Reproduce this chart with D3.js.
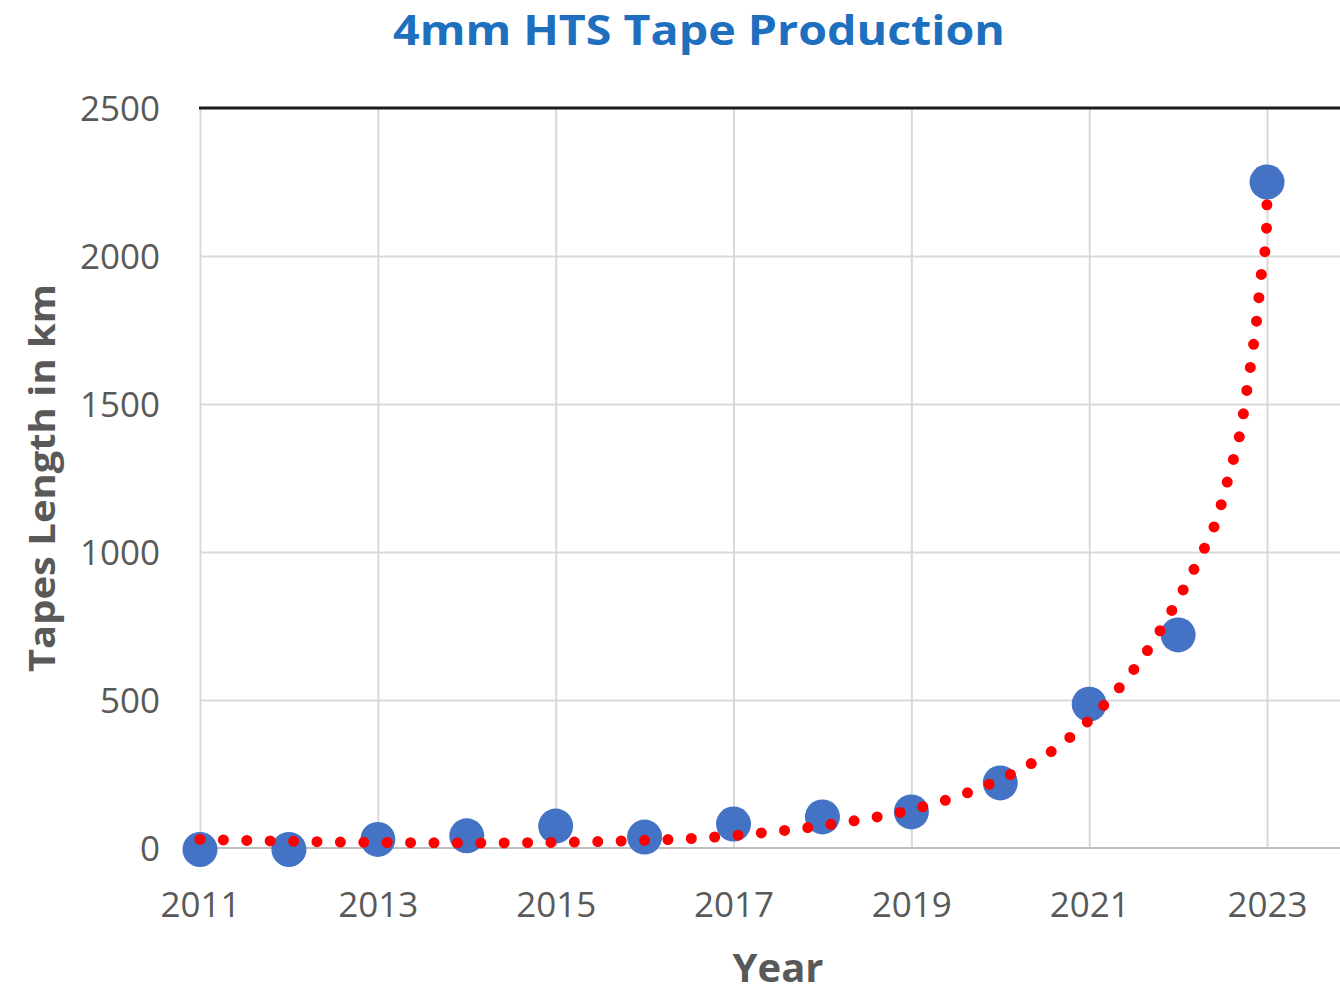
<!DOCTYPE html>
<html>
<head>
<meta charset="utf-8">
<script src="https://cdn.jsdelivr.net/npm/d3@7"></script>
<style>
  body{margin:0;background:#fff;}
  svg{display:block;}
</style>
</head>
<body>
<svg id="chart" width="1340" height="997"></svg>
<script>
// production per year (km)
const years = [2011,2012,2013,2014,2015,2016,2017,2018,2019,2020,2021,2022,2023];
const lengthKm = [-5,-5,29,41,74,37,81,105,122,220,486,720,2250];

// trendline (red dotted), sampled along the drawn curve
const trendYears = [2011,2011.8,2012.6,2013.4,2014.2,2015,2015.78,2016.58,2017.38,2018.16,2018.94,2019.69,2020.19,2020.64,2021.04,2021.39,2021.71,2021.98,2022.22,2022.44,2022.58,2022.71,2022.79,2022.83,2022.865,2022.895,2022.92,2022.95,2022.99,2023];
const trendKm = [29,24,20,18,17,19,24,33,53,83,125,193,260,340,444,560,692,830,967,1116,1268,1423,1581,1660,1739,1815,1896,1973,2054,2210];

const yTicks = [0,500,1000,1500,2000,2500];
const xTicks = [2011,2013,2015,2017,2019,2021,2023];

const svg = d3.select("#chart");
const font = "'Open Sans', 'Liberation Sans', sans-serif";

const x = d3.scaleLinear().domain([2011,2025]).range([200, 200 + 14*88.92]);
const y = d3.scaleLinear().domain([0,2500]).range([848,108]);

// grid
svg.append("g")
    .attr("transform","translate(200,0)")
    .call(d3.axisLeft(y).tickValues(yTicks.slice(1,-1)).tickSize(-(1340-200)).tickFormat(""))
    .call(g => g.select(".domain").remove())
    .call(g => g.selectAll("line").attr("stroke","#d9d9d9").attr("stroke-width",2));

svg.append("g")
    .attr("transform","translate(0,848)")
    .call(d3.axisBottom(x).tickValues(xTicks.concat([2025])).tickSize(-(848-108)).tickFormat(""))
    .call(g => g.select(".domain").remove())
    .call(g => g.selectAll("line").attr("stroke","#d9d9d9").attr("stroke-width",2));

// zero line
svg.append("line")
    .attr("x1",200).attr("x2",1340)
    .attr("y1",y(0)).attr("y2",y(0))
    .attr("stroke","#bfbfbf").attr("stroke-width",2);

// top border
svg.append("line")
    .attr("x1",199).attr("x2",1340)
    .attr("y1",y(2500)).attr("y2",y(2500))
    .attr("stroke","#1a1a1a").attr("stroke-width",3);

// tick labels
svg.append("g")
    .attr("transform","translate(160,0)")
    .call(d3.axisLeft(y).tickValues(yTicks).tickSize(0).tickPadding(0).tickFormat(d3.format("d")))
    .call(g => g.select(".domain").remove())
    .call(g => g.selectAll("text")
        .attr("font-family",font).attr("font-size",35)
        .attr("fill","#595959").attr("dy","0.36em"));

svg.append("g")
    .attr("transform","translate(0,917)")
    .call(d3.axisBottom(x).tickValues(xTicks).tickSize(0).tickPadding(0).tickFormat(d3.format("d")))
    .call(g => g.select(".domain").remove())
    .call(g => g.selectAll("text")
        .attr("font-family",font).attr("font-size",35)
        .attr("fill","#595959").attr("y",0).attr("dy","0"));

// data points
svg.append("g").selectAll("circle")
    .data(years.map((d,i) => ({year:d, v:lengthKm[i]})))
    .join("circle")
    .attr("cx", d => x(d.year))
    .attr("cy", d => y(d.v))
    .attr("r",17.5)
    .attr("fill","#4472c4");

// trendline
const line = d3.line()
    .x(d => x(d[0]))
    .y(d => y(d[1]))
    .curve(d3.curveMonotoneX);

svg.append("path")
    .datum(trendYears.map((d,i) => [d, trendKm[i]]))
    .attr("d", line)
    .attr("fill","none")
    .attr("stroke","#ff0000")
    .attr("stroke-width",11)
    .attr("stroke-linecap","round")
    .attr("stroke-dasharray","0 23.4");

// title and axis titles
svg.append("text")
    .attr("x",699).attr("y",45)
    .attr("text-anchor","middle")
    .attr("font-family",font).attr("font-weight","bold")
    .attr("font-size",42).attr("fill","#1f6fbf")
    .attr("textLength",612).attr("lengthAdjust","spacingAndGlyphs")
    .text("4mm HTS Tape Production");

svg.append("text")
    .attr("x",778).attr("y",982)
    .attr("text-anchor","middle")
    .attr("font-family",font).attr("font-weight","bold")
    .attr("font-size",40).attr("fill","#595959")
    .text("Year");

svg.append("text")
    .attr("transform","translate(55,478) rotate(-90)")
    .attr("text-anchor","middle")
    .attr("font-family",font).attr("font-weight","bold")
    .attr("font-size",36).attr("fill","#595959")
    .attr("textLength",388).attr("lengthAdjust","spacingAndGlyphs")
    .text("Tapes Length in km");
</script>
</body>
</html>
